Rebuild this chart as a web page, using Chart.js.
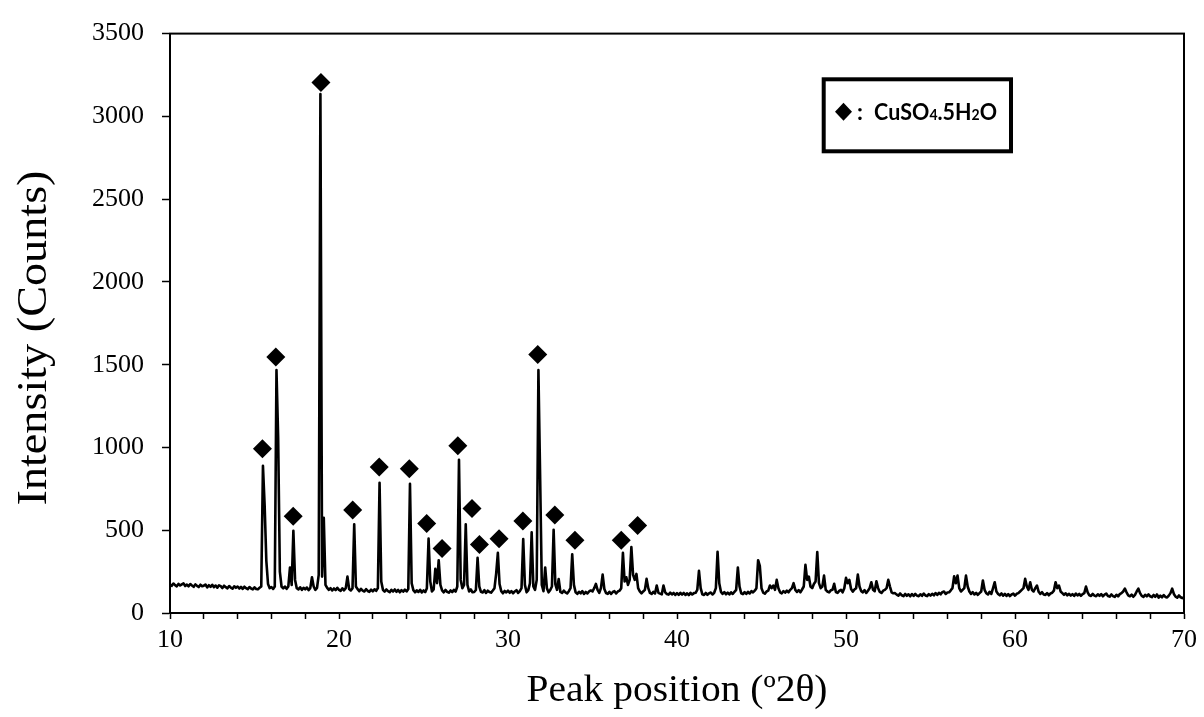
<!DOCTYPE html>
<html>
<head>
<meta charset="utf-8">
<title>XRD pattern - CuSO4.5H2O</title>
<script src="https://cdn.jsdelivr.net/npm/chart.js@4.4.0/dist/chart.umd.min.js"></script>
<style>
  html, body { margin: 0; padding: 0; background: #fff; }
  #xrdChart { display: block; }
</style>
</head>
<body>
<canvas id="xrdChart" width="1204" height="717"></canvas>
<script>
// Scan, 0.1 deg steps starting at 10 deg 2-theta
const scanStart = 10;
const scanStep = 0.1;

const counts10to20 = [
  172, 164, 178, 168, 161, 176, 166, 173, 179, 163,
  172, 161, 175, 166, 158, 173, 164, 157, 171, 162,
  165, 172, 155, 168, 158, 170, 156, 166, 153, 167,
  162, 151, 165, 156, 149, 163, 153, 147, 161, 152,
  160, 148, 158, 146, 159, 150, 144, 157, 148, 143,
  155, 145, 143, 152, 160, 889, 650, 315, 175, 150,
  157, 145, 160, 1467, 1057, 250, 160, 149, 160, 146,
  160, 275, 170, 497, 200, 150, 143, 155, 140, 152,
  143, 154, 138, 150, 216, 160, 140, 152, 230, 3135,
  220, 575, 170, 152, 140, 150, 136, 148, 138, 152
];
const counts20to30 = [
  140, 134, 149, 137, 150, 220, 145, 136, 150, 536,
  160, 144, 132, 146, 135, 130, 144, 133, 128, 141,
  131, 143, 134, 150, 786, 190, 140, 129, 142, 132,
  126, 140, 130, 142, 128, 139, 125, 138, 129, 141,
  130, 145, 780, 180, 138, 125, 137, 127, 140, 124,
  136, 126, 150, 449, 190, 130, 142, 267, 180, 319,
  170, 137, 125, 139, 128, 123, 136, 126, 140, 129,
  160, 925, 200, 150, 170, 536, 170, 130, 142, 125,
  127, 139, 334, 160, 128, 124, 138, 121, 135, 127,
  123, 136, 150, 238, 364, 175, 132, 119, 133, 124
];
const counts30to40 = [
  135, 122, 132, 119, 130, 138, 121, 132, 150, 447,
  170, 125, 138, 180, 487, 160, 140, 200, 1467, 830,
  170, 132, 275, 150, 125, 139, 160, 503, 175, 140,
  205, 127, 121, 135, 124, 118, 132, 150, 354, 170,
  125, 116, 128, 119, 132, 115, 127, 118, 130, 136,
  130, 150, 176, 140, 122, 150, 232, 145, 121, 116,
  128, 115, 127, 132, 118, 130, 135, 150, 364, 190,
  216, 170, 200, 398, 230, 200, 236, 150, 130, 119,
  130, 140, 206, 150, 121, 115, 128, 118, 166, 122,
  117, 113, 166, 125, 115, 111, 123, 112, 121, 109
];
const counts40to50 = [
  120, 110, 122, 111, 121, 109, 119, 108, 122, 112,
  120, 122, 140, 255, 150, 113, 109, 121, 110, 119,
  124, 112, 122, 150, 370, 180, 128, 116, 126, 113,
  123, 112, 125, 115, 128, 140, 275, 160, 119, 114,
  126, 115, 128, 118, 132, 125, 135, 150, 319, 285,
  150, 123, 117, 130, 135, 166, 150, 166, 140, 200,
  150, 125, 119, 132, 123, 135, 125, 140, 150, 180,
  140, 127, 138, 125, 142, 160, 291, 200, 220, 160,
  150, 175, 190, 368, 180, 150, 160, 226, 140, 130,
  125, 137, 140, 176, 127, 122, 134, 140, 125, 150
];
const counts50to60 = [
  212, 180, 200, 145, 129, 142, 150, 232, 160, 132,
  125, 138, 121, 134, 150, 186, 140, 132, 192, 150,
  127, 121, 135, 140, 150, 200, 160, 125, 119, 120,
  111, 105, 118, 107, 102, 115, 104, 113, 101, 114,
  103, 115, 105, 101, 113, 104, 117, 106, 102, 114,
  105, 116, 107, 120, 109, 122, 113, 126, 130, 115,
  124, 125, 137, 150, 222, 180, 226, 150, 130, 140,
  150, 226, 160, 130, 115, 126, 112, 122, 110, 120,
  130, 196, 140, 119, 112, 128, 115, 150, 186, 130,
  115, 107, 118, 105, 115, 103, 114, 102, 112, 117
];
const counts60to70 = [
  105, 116, 120, 130, 140, 150, 206, 160, 140, 186,
  140, 130, 150, 166, 128, 115, 126, 112, 109, 120,
  107, 118, 122, 135, 186, 150, 166, 130, 120, 110,
  119, 107, 116, 105, 114, 103, 117, 106, 115, 104,
  114, 120, 160, 125, 107, 103, 115, 105, 101, 113,
  104, 114, 101, 111, 117, 103, 99, 112, 102, 97,
  110, 100, 114, 120, 130, 147, 125, 107, 101, 111,
  98, 110, 130, 147, 120, 103, 97, 110, 100, 112,
  101, 96, 109, 98, 112, 93, 105, 95, 108, 97,
  94, 105, 120, 147, 115, 99, 93, 106, 95, 90,
  95
];

// diamond markers (CuSO4.5H2O reflections), as placed on the figure
const markerTwoTheta = [15.47, 16.26, 17.29, 18.93, 20.81, 22.38, 24.16, 25.19, 26.10, 27.03,
                        27.87, 28.31, 29.47, 30.88, 31.76, 32.77, 33.96, 36.70, 37.67];
const markerCounts = [992, 1546, 584, 3205, 622, 882, 871, 540, 390, 1011,
                      631, 414, 449, 556, 1562, 592, 439, 439, 528];

// axes
const xLabelValues = [10, 20, 30, 40, 50, 60, 70];
const yTickValues = [0, 500, 1000, 1500, 2000, 2500, 3000, 3500];
const xTitle = 'Peak position (\u00BA2\u03B8)';
const yTitle = 'Intensity (Counts)';
const legendLabel = 'CuSO4.5H2O';

const allCounts = [].concat(counts10to20, counts20to30, counts30to40, counts40to50, counts50to60, counts60to70);
const scanPoints = allCounts.map((c, i) => ({ x: Math.round((scanStart + i * scanStep) * 10) / 10, y: c }));
const markerPoints = markerTwoTheta.map((t, i) => ({ x: t, y: markerCounts[i] }));

const serif = '"Liberation Serif", "Times New Roman", serif';

// text drawn to a given length (the figure's lettering is a bit stretched)
function drawStretchedText(ctx, text, x, y, rotation, font, length) {
  ctx.save();
  ctx.font = font;
  ctx.fillStyle = '#000';
  ctx.textAlign = 'center';
  ctx.textBaseline = 'alphabetic';
  const w = ctx.measureText(text).width;
  ctx.translate(x, y);
  ctx.rotate(rotation);
  ctx.scale(length / w, 1);
  ctx.fillText(text, 0, 0);
  ctx.restore();
}

function drawLegendBox(ctx) {
  ctx.save();
  ctx.strokeStyle = '#000';
  ctx.fillStyle = '#000';
  ctx.lineWidth = 4;
  ctx.strokeRect(823.7, 79.3, 187.3, 72);

  // diamond symbol
  ctx.beginPath();
  ctx.moveTo(843.5, 102.7);
  ctx.lineTo(852, 111.7);
  ctx.lineTo(843.5, 120.7);
  ctx.lineTo(835, 111.7);
  ctx.closePath();
  ctx.fill();

  const baseline = 119.5;
  ctx.textBaseline = 'alphabetic';
  ctx.font = 'bold 23px Lato, "Open Sans", sans-serif';
  ctx.fillText(':', 857, baseline);

  // digits right after an element symbol get the small subscript size
  const parts = [];
  for (let i = 0; i < legendLabel.length; i++) {
    const ch = legendLabel[i];
    const sub = /[0-9]/.test(ch) && /[A-Za-z]/.test(legendLabel[i - 1] || '');
    parts.push({ ch, size: sub ? 15 : 23 });
  }
  let total = 0;
  parts.forEach(p => {
    ctx.font = `bold ${p.size}px Lato, "Open Sans", sans-serif`;
    p.w = ctx.measureText(p.ch).width;
    total += p.w;
  });
  ctx.translate(874, baseline);
  ctx.scale(123 / total, 1);
  let x = 0;
  parts.forEach(p => {
    ctx.font = `bold ${p.size}px Lato, "Open Sans", sans-serif`;
    ctx.fillText(p.ch, x, 0);
    x += p.w;
  });
  ctx.restore();
}

const figureDecor = {
  id: 'figureDecor',
  afterDatasetsDraw(chart) {
    const { ctx, chartArea: a } = chart;
    ctx.save();
    ctx.strokeStyle = '#000';
    ctx.lineWidth = 2;
    ctx.strokeRect(a.left, a.top, a.right - a.left, a.bottom - a.top);
    ctx.restore();
  },
  afterDraw(chart) {
    const ctx = chart.ctx;
    drawStretchedText(ctx, yTitle, 46, 338, -Math.PI / 2, '42px ' + serif, 335);
    drawStretchedText(ctx, xTitle, 677, 701, 0, '38px ' + serif, 301);
    drawLegendBox(ctx);
  }
};

const ctx = document.getElementById('xrdChart').getContext('2d');
new Chart(ctx, {
  type: 'line',
  data: {
    datasets: [
      {
        type: 'scatter',
        label: 'CuSO4.5H2O',
        data: markerPoints,
        pointStyle: 'rectRot',
        pointRadius: 9.5,
        backgroundColor: '#000',
        borderColor: '#000',
        borderWidth: 0,
        order: 0
      },
      {
        label: 'XRD scan',
        data: scanPoints,
        borderColor: '#000',
        borderWidth: 2.6,
        borderJoinStyle: 'round',
        pointRadius: 0,
        tension: 0,
        fill: false,
        order: 1
      }
    ]
  },
  options: {
    responsive: false,
    animation: false,
    devicePixelRatio: 1,
    layout: { padding: { top: 24, right: 20, left: 0, bottom: 0 } },
    plugins: {
      legend: { display: false },
      tooltip: { enabled: false }
    },
    scales: {
      x: {
        type: 'linear',
        min: 10,
        max: 70,
        ticks: {
          stepSize: 2,
          autoSkip: false,
          maxRotation: 0,
          padding: 6,
          color: '#000',
          font: { family: serif, size: 26 },
          callback: v => (xLabelValues.includes(v) ? String(v) : '')
        },
        grid: { drawOnChartArea: false, drawTicks: true, tickLength: 6, tickColor: '#000', tickWidth: 1.5 },
        border: { color: '#000', width: 2 },
        afterFit: scale => { scale.height = 104; }
      },
      y: {
        min: 0,
        max: 3500,
        afterBuildTicks: scale => { scale.ticks = yTickValues.map(v => ({ value: v })); },
        ticks: {
          padding: 18,
          color: '#000',
          font: { family: serif, size: 26 },
          callback: v => String(v)
        },
        grid: { drawOnChartArea: false, drawTicks: true, tickLength: 8, tickColor: '#000', tickWidth: 1.5 },
        border: { color: '#000', width: 2 },
        afterFit: scale => { scale.width = 170; }
      }
    }
  },
  plugins: [figureDecor]
});
</script>
</body>
</html>
